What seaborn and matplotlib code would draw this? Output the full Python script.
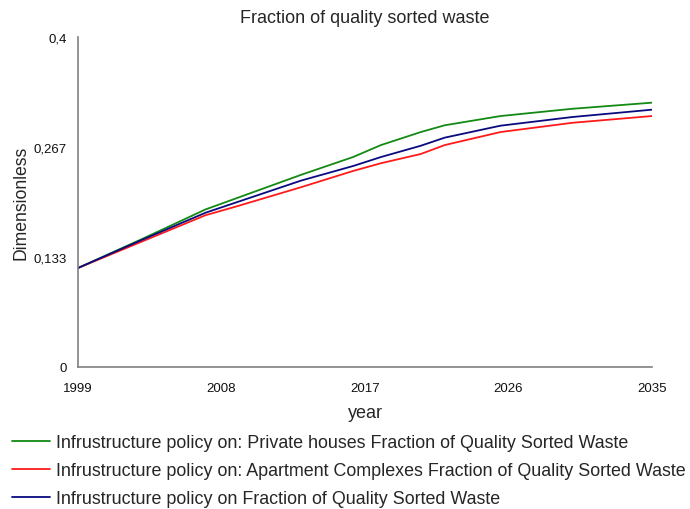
import matplotlib
matplotlib.use("Agg")
import matplotlib.pyplot as plt
import seaborn as sns
import pandas as pd

# Simulation output: fraction of quality sorted waste per policy scenario
years = [1999, 2003, 2007, 2009, 2013, 2016.25, 2018, 2020.5, 2022, 2025.5, 2030, 2035]
private_houses = [0.120, 0.155, 0.191, 0.205, 0.233, 0.2545, 0.269, 0.2848, 0.293, 0.3042, 0.313, 0.3204]
apartment_complexes = [0.120, 0.152, 0.184, 0.195, 0.218, 0.2376, 0.247, 0.2582, 0.269, 0.2848, 0.296, 0.3042]
overall_policy = [0.120, 0.154, 0.187, 0.200, 0.226, 0.2436, 0.2545, 0.2682, 0.278, 0.2925, 0.303, 0.3119]

series_names = [
    "Infrustructure policy on: Private houses Fraction of Quality Sorted Waste",
    "Infrustructure policy on: Apartment Complexes Fraction of Quality Sorted Waste",
    "Infrustructure policy on Fraction of Quality Sorted Waste",
]
series_colors = ["#138a13", "#ff1a1a", "#0a0a80"]

x_ticks = [1999, 2008, 2017, 2026, 2035]
y_ticks = [0, 0.133, 0.267, 0.4]
y_tick_labels = ["0", "0,133", "0,267", "0,4"]

frames = []
for name, vals in zip(series_names, [private_houses, apartment_complexes, overall_policy]):
    frames.append(pd.DataFrame({"year": years, "value": vals, "series": name}))
df = pd.concat(frames, ignore_index=True)

sns.set_style("white")
plt.rcParams["font.family"] = ["Liberation Sans", "DejaVu Sans"]

fig = plt.figure(figsize=(6.9, 5.1), dpi=100)
ax = fig.add_axes([78 / 690, 1 - 368 / 510, (652 - 78) / 690, (368 - 38) / 510])

sns.lineplot(
    data=df, x="year", y="value", hue="series",
    palette=dict(zip(series_names, series_colors)),
    hue_order=series_names, linewidth=1.3, ax=ax, legend=False,
)

ax.set_xlim(1999, 2035)
ax.set_ylim(0, 0.4)
ax.set_xticks(x_ticks)
ax.set_xticklabels([str(t) for t in x_ticks], fontsize=9.5)
ax.set_yticks(y_ticks)
ax.set_yticklabels(y_tick_labels, fontsize=9.5)
ax.tick_params(axis="both", length=0, pad=8, colors="#111111")
ax.tick_params(axis="x", pad=11)

for side in ["top", "right"]:
    ax.spines[side].set_visible(False)
for side in ["left", "bottom"]:
    ax.spines[side].set_color("#808080")
    ax.spines[side].set_linewidth(1.2)

ax.set_xlabel("year", fontsize=13, labelpad=7)
ax.set_ylabel("Dimensionless", fontsize=12.7, labelpad=3)
ax.set_title("Fraction of quality sorted waste", fontsize=13, pad=11)

handles = [plt.Line2D([], [], color=c, linewidth=1.3) for c in series_colors]
fig.legend(
    handles, series_names, loc="upper left", bbox_to_anchor=(12 / 690, 1 - 435 / 510),
    frameon=False, fontsize=12.9, handlelength=2.1, handletextpad=0.35,
    labelspacing=0.62, borderaxespad=0, borderpad=0,
)

fig.savefig("out.png", dpi=100)
